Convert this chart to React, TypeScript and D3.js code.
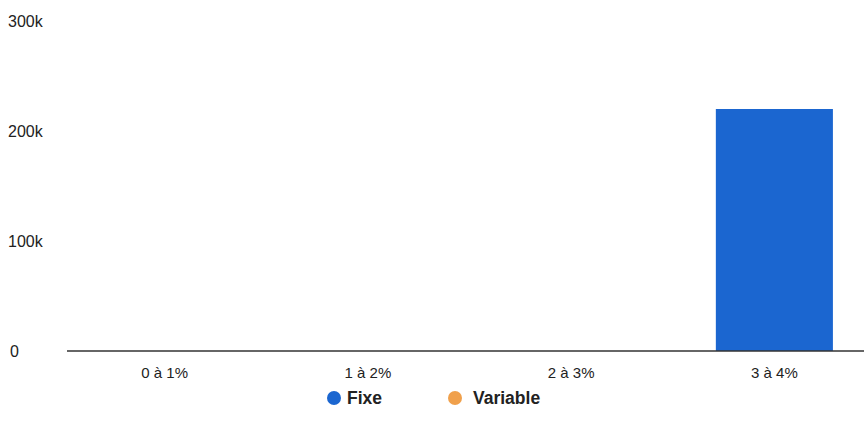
import React from "react";
import * as d3 from "d3";

const categories = ["0 à 1%", "1 à 2%", "2 à 3%", "3 à 4%"];
const fixeValues = [0, 0, 0, 220000];
const variableValues = [0, 0, 0, 0];
const yTicks = [0, 100000, 200000, 300000];
const seriesNames = ["Fixe", "Variable"];
const seriesColors = ["#1b66d0", "#f0a04b"];

const W = 864;
const H = 428;

export default function App() {
  const x = d3
    .scaleBand<string>()
    .domain(categories)
    .range([63, 876])
    .paddingInner(0.424)
    .paddingOuter(0.212);
  const y = d3.scaleLinear().domain([0, 300000]).range([351, 21]);
  const fmt = (v: number) => (v === 0 ? "0" : `${v / 1000}k`);
  const font = "'Liberation Sans', Arial, Helvetica, sans-serif";

  return (
    <svg
      width={W}
      height={H}
      style={{ position: "absolute", left: 0, top: 0, background: "#fff" }}
      fontFamily={font}
    >
      {yTicks.map((t) => (
        <text
          key={t}
          x={t === 0 ? 10 : 8}
          y={y(t)}
          dy="0.35em"
          fontSize={16}
          fill="#222"
        >
          {fmt(t)}
        </text>
      ))}
      {categories.map((c, i) => (
        <g key={c}>
          <rect
            x={x(c)}
            y={y(fixeValues[i])}
            width={x.bandwidth()}
            height={y(0) - y(fixeValues[i])}
            fill={seriesColors[0]}
          />
          {variableValues[i] > 0 && (
            <rect
              x={x(c)}
              y={y(variableValues[i])}
              width={x.bandwidth()}
              height={y(0) - y(variableValues[i])}
              fill={seriesColors[1]}
            />
          )}
        </g>
      ))}
      <line x1={67} x2={W} y1={y(0)} y2={y(0)} stroke="#333" strokeWidth={1.5} />
      {categories.map((c) => (
        <text
          key={c}
          x={(x(c) ?? 0) + x.bandwidth() / 2}
          y={373}
          dy="0.35em"
          textAnchor="middle"
          fontSize={15}
          fill="#222"
        >
          {c}
        </text>
      ))}
      <g>
        <circle cx={334} cy={398} r={7} fill={seriesColors[0]} />
        <text x={347} y={398} dy="0.35em" fontSize={17.5} fontWeight={700} fill="#222">
          {seriesNames[0]}
        </text>
        <circle cx={455} cy={398} r={7} fill={seriesColors[1]} />
        <text x={473} y={398} dy="0.35em" fontSize={17.5} fontWeight={700} fill="#222">
          {seriesNames[1]}
        </text>
      </g>
    </svg>
  );
}
